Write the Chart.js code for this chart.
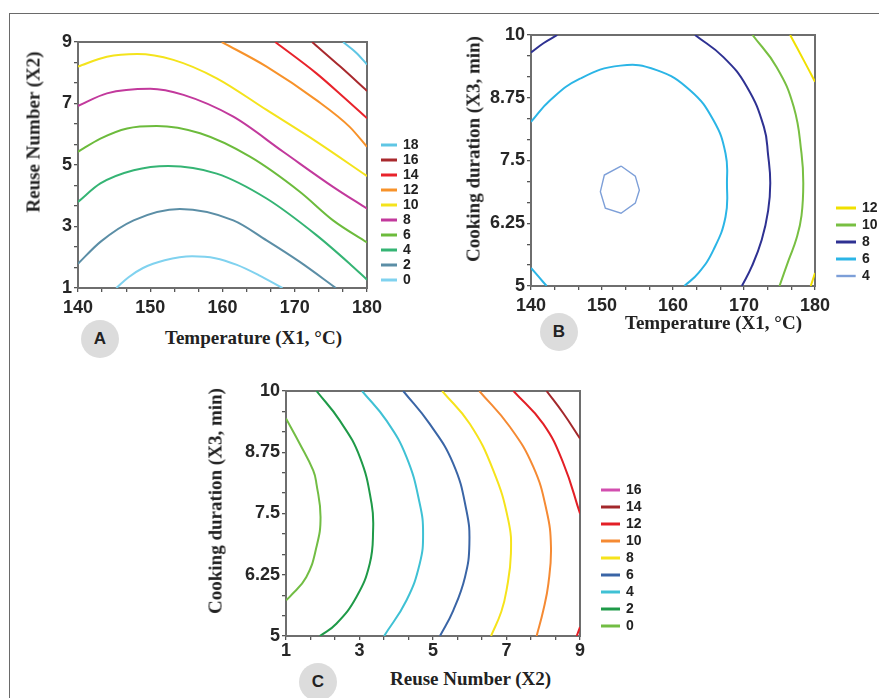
<!DOCTYPE html>
<html>
<head>
<meta charset="utf-8">
<script src="https://cdn.jsdelivr.net/npm/chart.js@4.4.1/dist/chart.umd.min.js"></script>
<style>
  html, body { margin: 0; padding: 0; background: #ffffff; }
  #fig { position: relative; width: 879px; height: 698px; overflow: hidden; background: #ffffff; }
  .frame { position: absolute; left: 9px; top: 13px; width: 880px; height: 700px;
           border-top: 1px solid #6a6a6a; border-left: 1px solid #6a6a6a; }
  .cv { position: absolute; }
  .xt { position: absolute; font-family: "Liberation Serif", "Times New Roman", serif; font-weight: bold;
        font-size: 19px; line-height: 19px; color: #222; white-space: nowrap; }
  .yt { position: absolute; font-family: "Liberation Serif", "Times New Roman", serif; font-weight: bold;
        font-size: 19px; line-height: 19px; color: #222; white-space: nowrap;
        transform: translate(-50%, -50%) rotate(-90deg); }
  .badge { position: absolute; width: 38px; height: 38px; border-radius: 50%; background: #dcdcdc;
           font-family: "Liberation Sans", Arial, sans-serif; font-weight: bold; font-size: 17px;
           color: #222; text-align: center; line-height: 38px; transform: translate(-50%, -50%); }
</style>
</head>
<body>
<div id="fig">
  <div class="frame"></div>
  <div class="cv" style="left:18px;top:27px;width:407px;height:291px;"><canvas id="cA"></canvas></div>
  <div class="cv" style="left:471px;top:20px;width:408px;height:296px;"><canvas id="cB"></canvas></div>
  <div class="cv" style="left:226px;top:376px;width:419px;height:290px;"><canvas id="cC"></canvas></div>

  <div class="yt" style="left:33px;top:132px;">Reuse Number (X2)</div>
  <div class="xt" style="left:165px;top:328px;">Temperature (X1, °C)</div>
  <div class="badge" style="left:100px;top:339px;">A</div>

  <div class="yt" style="left:473px;top:149px;">Cooking duration (X3, min)</div>
  <div class="xt" style="left:625px;top:313px;">Temperature (X1, °C)</div>
  <div class="badge" style="left:559px;top:332px;">B</div>

  <div class="yt" style="left:215px;top:501px;">Cooking duration (X3, min)</div>
  <div class="xt" style="left:390px;top:669px;">Reuse Number (X2)</div>
  <div class="badge" style="left:318px;top:682px;">C</div>
</div>
<script>
// ---------- Panel A: Temperature (X1) vs Reuse Number (X2) ----------
const A_X_LABELS = [140, 150, 160, 170, 180];
const A_Y_LABELS = [1, 3, 5, 7, 9];
const A_LEVELS = ['18', '16', '14', '12', '10', '8', '6', '4', '2', '0'];
const A_COLORS = ['#5fc6e4', '#a8292d', '#e8232b', '#f7922a', '#f4e31c', '#c2399c', '#6cbb3c', '#35b474', '#5b8ea6', '#80d2ef'];
const A_L18 = [[176.7, 9], [178.5, 8.65], [180, 8.27]];
const A_L16 = [[172.4, 9], [176.3, 8.2], [180, 7.41]];
const A_L14 = [[167.3, 9], [173, 7.98], [176.7, 7.22], [180, 6.52]];
const A_L12 = [[159.9, 9], [166.1, 8.2], [173, 7.11], [177.6, 6.24], [180, 5.59]];
const A_L10 = [[140, 8.2], [144, 8.52], [148.2, 8.61], [153.2, 8.42], [159.2, 7.82], [166.1, 6.79], [173, 5.76], [180, 4.64]];
const A_L8 = [[140, 6.92], [144, 7.33], [150, 7.48], [154.6, 7.28], [161.5, 6.57], [168.4, 5.43], [175.3, 4.29], [180, 3.58]];
const A_L6 = [[140, 5.43], [143.1, 5.86], [146.8, 6.19], [150.9, 6.27], [156.9, 6.03], [163.8, 5.27], [170.7, 4.13], [175.3, 3.2], [180, 2.48]];
const A_L4 = [[140, 3.8], [143.1, 4.4], [147.7, 4.83], [152.5, 4.97], [159.2, 4.72], [166.1, 3.91], [173, 2.72], [177.6, 1.79], [180, 1.27]];
const A_L2 = [[140, 1.79], [143.1, 2.5], [147.7, 3.2], [154.1, 3.57], [161.5, 3.2], [166.1, 2.55], [170.7, 1.85], [175.7, 1]];
const A_L0 = [[145.3, 1], [147, 1.35], [149, 1.65], [152, 1.9], [155.8, 2.03], [159, 1.97], [162, 1.75], [165, 1.42], [168.3, 1]];

// ---------- Panel B: Temperature (X1) vs Cooking duration (X3) ----------
const B_X_LABELS = [140, 150, 160, 170, 180];
const B_Y_LABELS = [5, 6.25, 7.5, 8.75, 10];
const B_LEVELS = ['12', '10', '8', '6', '4'];
const B_COLORS = ['#f0e000', '#78bf42', '#2e3192', '#2bb5e6', '#7d9fd8'];
const B_L12 = [[176.5, 10], [178.4, 9.5], [180, 9.07], null, [180, 5.26], [179.4, 5]];
const B_L10 = [[171.2, 10], [174.6, 9.36], [177, 8.57], [178.1, 7.64], [178.35, 7.05], [178.1, 6.4], [177.4, 5.95], [176.3, 5.52], [175, 5]];
const B_L8 = [[140, 9.65], [141.8, 9.84], [143.7, 10], null, [163.1, 10], [167.1, 9.56], [170.4, 8.97], [172.8, 8.17], [173.4, 7.6], [173.7, 7.05], [173.4, 6.5], [172.5, 5.92], [171.1, 5.39], [169.7, 5]];
const B_L6 = [[140, 8.27], [142.7, 8.7], [146.9, 9.13], [152.6, 9.39], [157.7, 9.3], [162.4, 8.9], [165.7, 8.3], [167.4, 7.64], [167.6, 7.05], [167.4, 6.38], [165.7, 5.72], [163.6, 5.26], [161.6, 5], null, [140, 5.36], [141.1, 5.18], [142.2, 5]];
const B_L4 = [[152.68, 7.39], [154.69, 7.19], [155.26, 6.91], [154.69, 6.65], [152.68, 6.45], [150.47, 6.55], [149.77, 6.88], [150.33, 7.21], [152.68, 7.39]];

// ---------- Panel C: Reuse Number (X2) vs Cooking duration (X3) ----------
const C_X_LABELS = [1, 3, 5, 7, 9];
const C_Y_LABELS = [5, 6.25, 7.5, 8.75, 10];
const C_LEVELS = ['16', '14', '12', '10', '8', '6', '4', '2', '0'];
const C_COLORS = ['#d24eaf', '#a3282b', '#e31f26', '#f58a33', '#f6e31b', '#3a65a6', '#3fc1d4', '#1f9a48', '#72bd44'];
const C_L16 = [];
const C_L14 = [[8.09, 10], [8.55, 9.54], [9, 9.03]];
const C_L12 = [[7.19, 10], [8.0, 9.33], [8.55, 8.52], [9, 7.5], null, [9, 5.18], [8.91, 5]];
const C_L10 = [[6.26, 10], [7.09, 9.27], [7.73, 8.45], [8.09, 7.56], [8.21, 6.82], [8.14, 6.07], [8.0, 5.52], [7.82, 5]];
const C_L8 = [[5.25, 10], [6.0, 9.33], [6.64, 8.38], [7.05, 7.36], [7.12, 6.68], [7.0, 5.93], [6.86, 5.5], [6.58, 5]];
const C_L6 = [[4.19, 10], [4.91, 9.33], [5.55, 8.52], [5.91, 7.56], [5.99, 6.88], [5.87, 6.2], [5.55, 5.52], [5.19, 5]];
const C_L4 = [[3.07, 10], [3.73, 9.4], [4.28, 8.65], [4.64, 7.7], [4.73, 7.09], [4.64, 6.48], [4.28, 5.73], [3.67, 5]];
const C_L2 = [[1.83, 10], [2.46, 9.4], [3.01, 8.65], [3.33, 7.7], [3.37, 7.16], [3.28, 6.48], [2.92, 5.8], [2.37, 5.25], [1.92, 5]];
const C_L0 = [[1, 9.44], [1.37, 8.93], [1.74, 8.38], [1.83, 8.1], [1.94, 7.43], [1.83, 6.82], [1.55, 6.2], [1.1, 5.8], [1, 5.73]];

const TICK_FONT = { family: '"Liberation Sans", Arial, sans-serif', weight: 'bold', size: 18 };
const LEG_FONT = { family: '"Liberation Sans", Arial, sans-serif', weight: 'bold', size: 14 };
const AXIS_COL = '#6e6e6e';

function toPoints(arr) {
  return arr.map(p => p === null ? { x: null, y: null } : { x: p[0], y: p[1] });
}
function tickValues(lo, hi, n) {
  const out = [];
  for (let i = 0; i <= n; i++) out.push(lo + (hi - lo) * i / n);
  return out;
}
function labelFor(v, labels) {
  for (const l of labels) if (Math.abs(v - l) < 1e-6) return String(l);
  return '';
}
function mainAxis(pos, min, max, labels, fitSize, pad) {
  const vals = tickValues(min, max, 12);
  const horiz = pos === 'bottom';
  return {
    type: 'linear', position: pos, min: min, max: max,
    afterBuildTicks: s => { s.ticks = vals.map(v => ({ value: v })); },
    afterFit: s => { if (horiz) s.height = fitSize; else s.width = fitSize; },
    ticks: { autoSkip: false, maxRotation: 0, padding: pad, color: '#262626', font: TICK_FONT,
             callback: v => labelFor(v, labels) },
    grid: { display: true, drawOnChartArea: false, drawTicks: true, tickLength: 4, color: '#555', lineWidth: 1.3 },
    border: { display: true, color: AXIS_COL, width: 2 }
  };
}
function frameAxis(pos, min, max, fitSize) {
  const horiz = pos === 'top';
  return {
    type: 'linear', position: pos, min: min, max: max, display: true,
    afterFit: s => { if (horiz) s.height = fitSize; else s.width = fitSize; },
    ticks: { display: false },
    grid: { display: false, drawTicks: false },
    border: { display: true, color: AXIS_COL, width: 2 }
  };
}
function legendWidth(w) {
  return {
    id: 'legendWidth',
    beforeLayout(chart) {
      const lg = chart.legend;
      if (lg && !lg.__fixedWidth) {
        const f = lg.fit;
        lg.fit = function () { f.call(this); this.width = w; };
        lg.__fixedWidth = true;
      }
    }
  };
}
// modes: 'm' = monotone along x, 't' = tension spline, 'p' = polygon
function makeChart(id, cfg) {
  const datasets = cfg.levels.map((lv, i) => {
    const m = cfg.modes[i];
    return {
      label: lv,
      data: toPoints(cfg.lines[i]),
      borderColor: cfg.colors[i],
      backgroundColor: cfg.colors[i],
      borderWidth: m === 'p' ? 1.4 : 2,
      pointRadius: 0,
      pointHoverRadius: 0,
      cubicInterpolationMode: m === 'm' ? 'monotone' : 'default',
      tension: m === 't' ? 0.45 : 0,
      spanGaps: false,
      fill: false,
      xAxisID: 'x', yAxisID: 'y'
    };
  });
  return new Chart(document.getElementById(id), {
    type: 'line',
    data: { datasets: datasets },
    plugins: [legendWidth(cfg.legW)],
    options: {
      responsive: true, maintainAspectRatio: false, animation: false,
      layout: { padding: { top: 15, left: 0, bottom: 0, right: 0 } },
      scales: {
        x: mainAxis('bottom', cfg.xr[0], cfg.xr[1], cfg.xl, 30, cfg.xpad),
        y: mainAxis('left', cfg.yr[0], cfg.yr[1], cfg.yl, 60, 2),
        x2: frameAxis('top', cfg.xr[0], cfg.xr[1], 0),
        y2: frameAxis('right', cfg.yr[0], cfg.yr[1], cfg.gap)
      },
      plugins: {
        legend: {
          display: true, position: 'right', align: 'end', fullSize: false,
          labels: { boxWidth: cfg.boxW, boxHeight: 1, padding: cfg.legPad, color: '#222', font: LEG_FONT }
        },
        tooltip: { enabled: false }
      }
    }
  });
}

makeChart('cA', {
  levels: A_LEVELS, colors: A_COLORS,
  lines: [A_L18, A_L16, A_L14, A_L12, A_L10, A_L8, A_L6, A_L4, A_L2, A_L0],
  modes: ['m', 'm', 'm', 'm', 'm', 'm', 'm', 'm', 'm', 'm'],
  xr: [140, 180], yr: [1, 9], xl: A_X_LABELS, yl: A_Y_LABELS,
  xpad: 5, gap: 14, legPad: 1, legW: 44, boxW: 14
});
makeChart('cB', {
  levels: B_LEVELS, colors: B_COLORS,
  lines: [B_L12, B_L10, B_L8, B_L6, B_L4],
  modes: ['t', 't', 't', 't', 'p'],
  xr: [140, 180], yr: [5, 10], xl: B_X_LABELS, yl: B_Y_LABELS,
  xpad: 5, gap: 19, legPad: 3, legW: 45, boxW: 18
});
makeChart('cC', {
  levels: C_LEVELS, colors: C_COLORS,
  lines: [C_L16, C_L14, C_L12, C_L10, C_L8, C_L6, C_L4, C_L2, C_L0],
  modes: ['t', 't', 't', 't', 't', 't', 't', 't', 't'],
  xr: [1, 9], yr: [5, 10], xl: C_X_LABELS, yl: C_Y_LABELS,
  xpad: 0, gap: 19, legPad: 3, legW: 46, boxW: 17
});
</script>
</body>
</html>
